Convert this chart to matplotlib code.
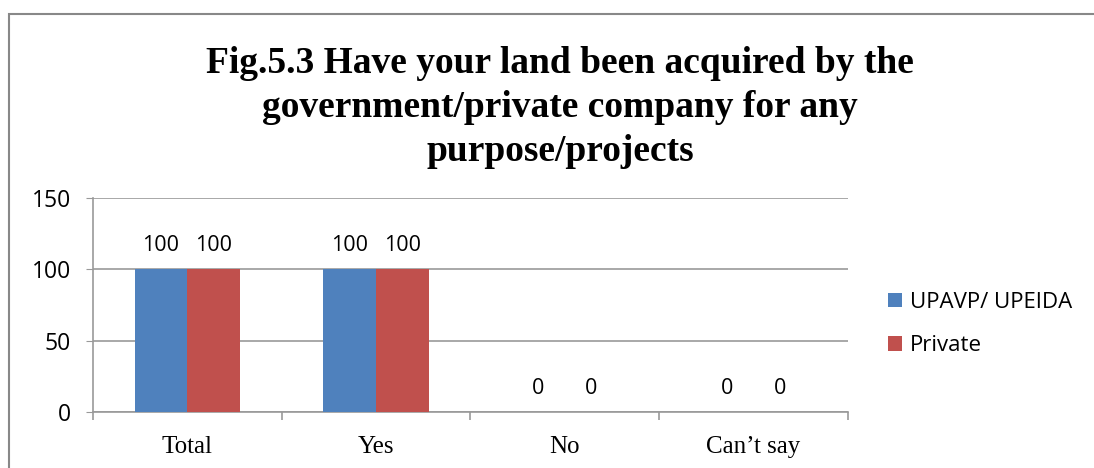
import numpy as np
import matplotlib.pyplot as plt
from matplotlib.patches import Rectangle

categories = ['Total', 'Yes', 'No', 'Can\u2019t say']
upavp = [100, 100, 0, 0]
private = [100, 100, 0, 0]
series_names = ['UPAVP/ UPEIDA', 'Private']
yticks = [0, 50, 100, 150]

blue = '#4f81bd'
red = '#c0504d'
grid_col = '#999999'

fig = plt.figure(figsize=(10.94, 4.68), dpi=100)
ax = fig.add_axes([0.085, 0.1197, 0.69, 0.4573])

x = np.arange(len(categories))
w = 0.28
b1 = ax.bar(x - w / 2, upavp, w, color=blue, label=series_names[0], zorder=3)
b2 = ax.bar(x + w / 2, private, w, color=red, label=series_names[1], zorder=3)

# value labels above each bar
for bars, vals in [(b1, upavp), (b2, private)]:
    for rect, v in zip(bars, vals):
        ax.annotate(str(v), (rect.get_x() + rect.get_width() / 2, v),
                    xytext=(0, 17), textcoords='offset points',
                    ha='center', va='center', fontsize=15.5,
                    family='Open Sans', color='black')

ax.set_xlim(-0.5, len(categories) - 0.5)
ax.set_ylim(0, 150)
ax.set_yticks(yticks)
ax.set_yticklabels([str(t) for t in yticks], family='Open Sans', fontsize=16.5)
ax.yaxis.grid(True, color=grid_col, linewidth=1.2, zorder=0)
ax.tick_params(axis='y', length=5, color=grid_col, pad=11)

ax.set_xticks(x)
ax.set_xticklabels(categories, family='Liberation Serif', fontsize=18)
ax.set_xticks(np.arange(len(categories) + 1) - 0.5, minor=True)
ax.tick_params(axis='x', which='major', length=0, pad=17)
ax.tick_params(axis='x', which='minor', length=6, color=grid_col, width=1.2)

for s in ['top', 'right']:
    ax.spines[s].set_visible(False)
for s in ['left', 'bottom']:
    ax.spines[s].set_color(grid_col)
    ax.spines[s].set_linewidth(1.2)

fig.text(0.512, 0.77, 'Fig.5.3 Have your land been acquired by the\n'
         'government/private company for any\npurpose/projects',
         ha='center', va='center', fontsize=27, fontweight='bold',
         family='Liberation Serif', linespacing=1.33)

leg = fig.legend(loc='center left', bbox_to_anchor=(0.793, 0.308),
                 frameon=False, prop={'family': 'Open Sans', 'size': 16},
                 handlelength=0.65, handleheight=0.65, handletextpad=0.35,
                 labelspacing=1.0)

# outer chart border
fig.add_artist(Rectangle((9 / 1094, -0.1), 1.2, 1.1 - 14 / 468,
                         transform=fig.transFigure, fill=False,
                         edgecolor='#888888', linewidth=1.5))

fig.savefig('out.png', dpi=100)
